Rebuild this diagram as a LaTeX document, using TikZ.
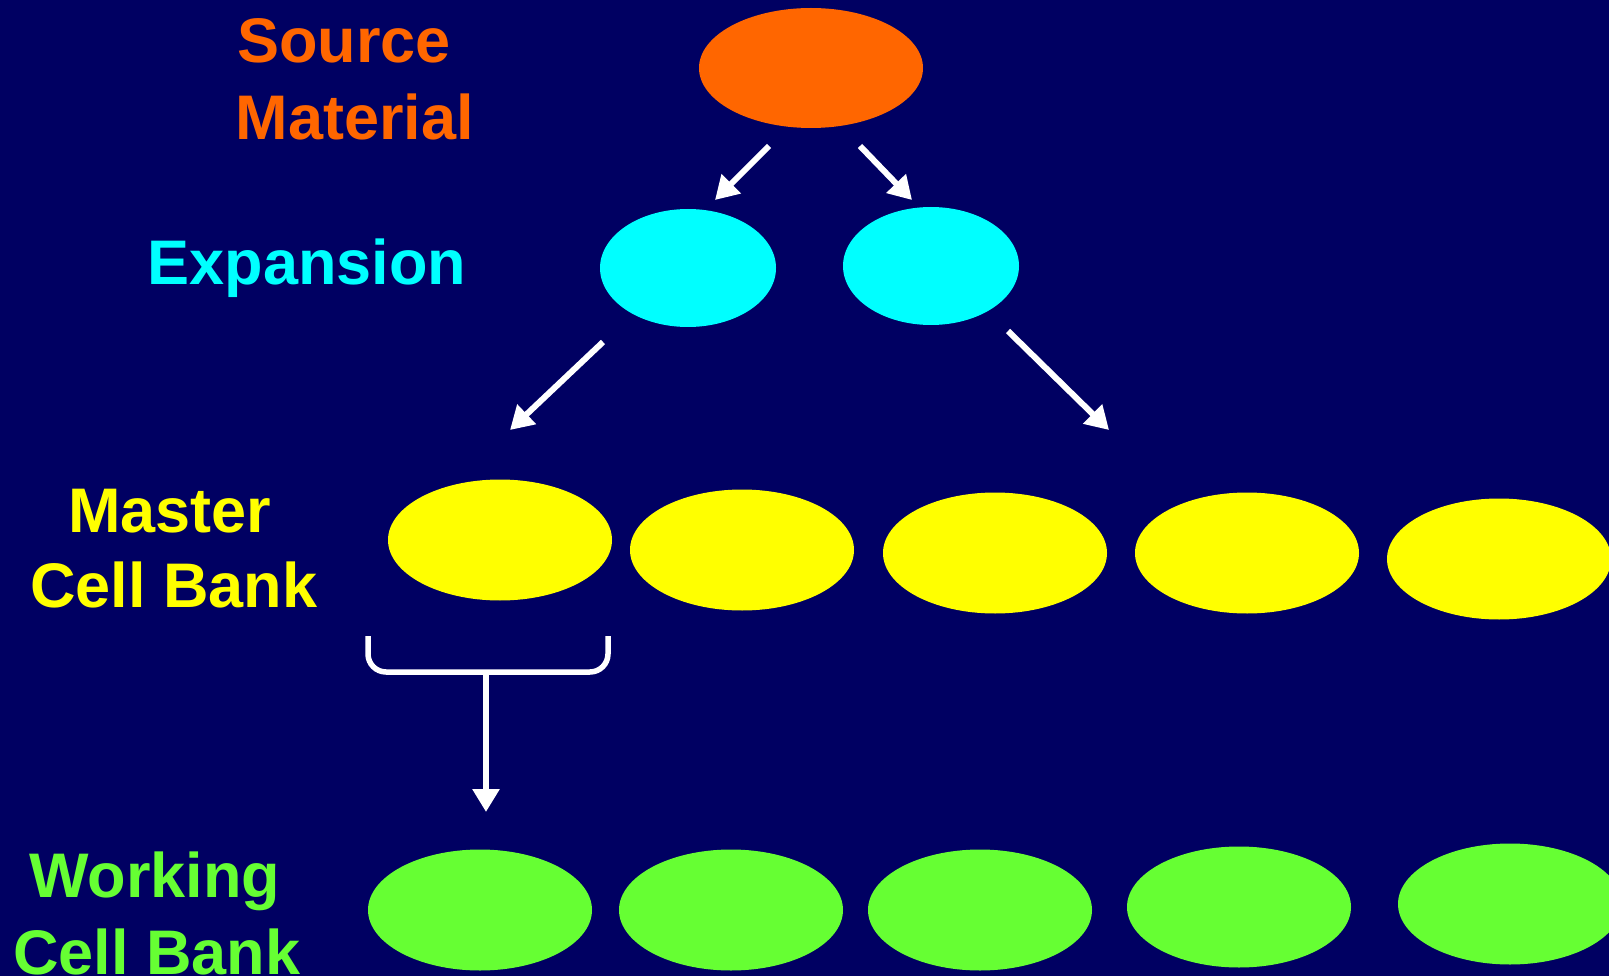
\documentclass[tikz,border=0pt]{standalone}
\usepackage{fontspec}
\setmainfont{Liberation Sans}
\usetikzlibrary{shapes.geometric,arrows.meta}
\definecolor{bg}{RGB}{0,0,98}
\definecolor{orangec}{RGB}{255,102,0}
\definecolor{cyanc}{RGB}{0,255,255}
\definecolor{yellowc}{RGB}{255,255,0}
\definecolor{greenc}{RGB}{102,255,51}
\tikzset{
  blob/.style={ellipse, inner sep=0pt, draw=none, minimum width=224pt, minimum height=121pt},
  smallblob/.style={ellipse, inner sep=0pt, draw=none, minimum width=176pt, minimum height=118pt, fill=cyanc},
  lbl/.style={anchor=base, inner sep=0pt, font=\bfseries\fontsize{63}{75}\selectfont},
  arr/.style={draw=white, line width=6pt, -{Triangle[length=23pt,width=26pt]}},
  brk/.style={draw=white, line width=5.5pt, rounded corners=18pt}
}
\begin{document}
\begin{tikzpicture}[x=1pt,y=-1pt]
\clip (0,0) rectangle (1609,976);
\fill[bg] (0,0) rectangle (1609,976);
% labels
\node[lbl, text=orangec] (t1) at (344,63) {Source};
\node[lbl, text=orangec] (t2) at (355,140) {Material};
\node[lbl, text=cyanc] (t3) at (307,285) {Expansion};
\node[lbl, text=yellowc] (t4) at (170,532) {Master};
\node[lbl, text=yellowc] (t5) at (174,607) {Cell Bank};
\node[lbl, text=greenc] (t6) at (155,897) {Working};
\node[lbl, text=greenc] (t7) at (157,974) {Cell Bank};
% ellipses
\node[blob, fill=orangec, minimum height=120pt] (src) at (811,68) {};
\node[smallblob] (e1) at (688,268) {};
\node[smallblob] (e2) at (931,266) {};
\node[blob, fill=yellowc] (m1) at (500,540) {};
\node[blob, fill=yellowc] (m2) at (742,550) {};
\node[blob, fill=yellowc] (m3) at (995,553) {};
\node[blob, fill=yellowc] (m4) at (1247,553) {};
\node[blob, fill=yellowc] (m5) at (1499,559) {};
\node[blob, fill=greenc] (w1) at (480,910) {};
\node[blob, fill=greenc] (w2) at (731,910) {};
\node[blob, fill=greenc] (w3) at (980,910) {};
\node[blob, fill=greenc] (w4) at (1239,907) {};
\node[blob, fill=greenc] (w5) at (1510,904) {};
% arrows
\coordinate (a1s) at (769,146); \coordinate (a1e) at (715,200);
\coordinate (a2s) at (860,146); \coordinate (a2e) at (912,200);
\coordinate (a3s) at (603,342); \coordinate (a3e) at (510,430);
\coordinate (a4s) at (1008,331); \coordinate (a4e) at (1109,430);
\draw[arr] (a1s) -- (a1e);
\draw[arr] (a2s) -- (a2e);
\draw[arr] (a3s) -- (a3e);
\draw[arr] (a4s) -- (a4e);
% bracket
\coordinate (bl) at (368,636);
\coordinate (br) at (608,636);
\coordinate (bs) at (486,672);
\coordinate (bt) at (486,812);
\draw[brk] (bl) |- (bs) -| (br);
\draw[arr] (bs) -- (bt);
\end{tikzpicture}
\end{document}
